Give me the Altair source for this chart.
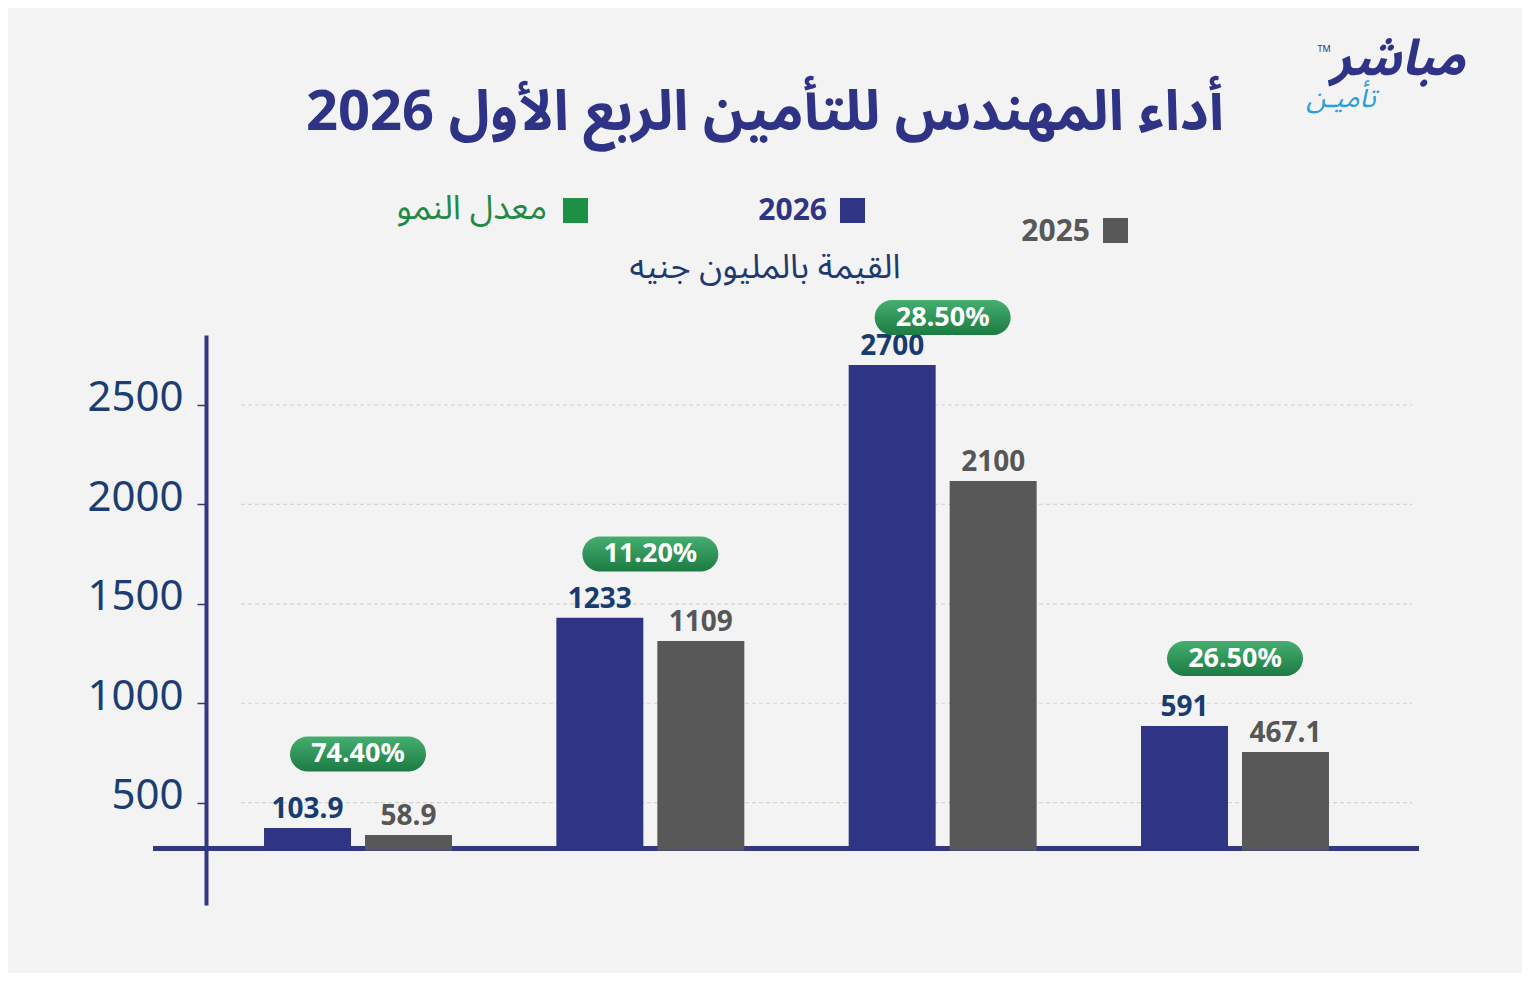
import altair as alt
import pandas as pd

# ---------------- data ----------------
groups = ["G1", "G2", "G3", "G4"]
series = ["2026", "2025"]
# bar tops as drawn against the chart's own axis
bar_2026 = [373, 1430, 2701, 886]
bar_2025 = [338, 1313, 2118, 755]
# printed values
label_2026 = ["103.9", "1233", "2700", "591"]
label_2025 = ["58.9", "1109", "2100", "467.1"]
growth = ["74.40%", "11.20%", "28.50%", "26.50%"]
growth_level = [745, 1751, 2940, 1225]
y_ticks = [500, 1000, 1500, 2000, 2500]
axis_base = 270
bar_floor = 259
y_domain = [-14.5, 2852]

NAVY = "#2f3584"
GRAY = "#585858"
AXIS = "#333780"
LBL_NAVY = "#183b70"
LBL_GRAY = "#565656"
GREEN = "#1f8a45"
BG = "#f3f3f3"
AR_FONT = "Noto Sans Arabic, DejaVu Sans, sans-serif"
NUM_FONT = "Noto Sans"

rows = []
for i, g in enumerate(groups):
    rows.append({"group": g, "series": "2026", "value": bar_2026[i],
                 "label": label_2026[i], "floor": bar_floor})
    rows.append({"group": g, "series": "2025", "value": bar_2025[i],
                 "label": label_2025[i], "floor": bar_floor})
bars_df = pd.DataFrame(rows)
growth_df = pd.DataFrame({"group": groups, "growth": growth, "level": growth_level})
grid_df = pd.DataFrame({"tick": y_ticks})
base_df = pd.DataFrame({"base": [axis_base]})
one = pd.DataFrame({"k": [0]})

x_enc = alt.X("group:N", sort=groups,
              scale=alt.Scale(domain=groups, paddingInner=0.357,
                              paddingOuter=0.2515, align=0.3946),
              axis=None)
xoff_enc = alt.XOffset("series:N", sort=series,
                       scale=alt.Scale(domain=series, paddingInner=0.1386,
                                       paddingOuter=0))
y_scale = alt.Scale(domain=y_domain, nice=False, zero=False)

grid = alt.Chart(grid_df).mark_rule(
    strokeDash=[4, 3], color="#d4d4d4", strokeWidth=1.2
).encode(
    y=alt.Y("tick:Q", scale=y_scale,
            axis=alt.Axis(values=y_ticks, format="d", title=None, grid=False,
                          labelFontSize=42, labelColor="#1b3d72",
                          labelFont=NUM_FONT, labelPadding=14,
                          labelOffset=-7,
                          tickSize=9, tickColor=AXIS, tickWidth=1.5,
                          domainColor=AXIS, domainWidth=4)),
    x=alt.value(35), x2=alt.value(1206),
)

baseline = alt.Chart(base_df).mark_rule(color=AXIS, strokeWidth=5).encode(
    y=alt.Y("base:Q", scale=y_scale),
    x=alt.value(-53), x2=alt.value(1213),
)

bars = alt.Chart(bars_df).mark_bar().encode(
    x=x_enc, xOffset=xoff_enc,
    y=alt.Y("value:Q", scale=y_scale),
    y2="floor:Q",
    color=alt.Color("series:N", scale=alt.Scale(domain=series, range=[NAVY, GRAY]),
                    legend=None),
)

bar_labels = alt.Chart(bars_df).mark_text(
    font=NUM_FONT, fontSize=28, fontWeight="bold", baseline="middle", dy=-18
).encode(
    x=x_enc, xOffset=xoff_enc,
    y=alt.Y("value:Q", scale=y_scale),
    text="label:N",
    color=alt.condition(alt.datum.series == "2026", alt.value(LBL_NAVY), alt.value(LBL_GRAY)),
)

pill_fill = alt.LinearGradient(
    gradient="linear",
    stops=[alt.GradientStop(color="#45ae70", offset=0),
           alt.GradientStop(color="#1c7b43", offset=1)],
    x1=0, x2=0, y1=0, y2=1,
)
pills = alt.Chart(growth_df).mark_rect(
    width=136, height=35, cornerRadius=17.5, color=pill_fill
).encode(
    x=alt.X("group:N", sort=groups),
    y=alt.Y("level:Q", scale=y_scale),
)
pill_text = alt.Chart(growth_df).mark_text(
    font=NUM_FONT, fontSize=27, fontWeight="bold", color="white", baseline="middle"
).encode(
    x=alt.X("group:N", sort=groups),
    y=alt.Y("level:Q", scale=y_scale),
    text="growth:N",
)


def note(text, x, y, size, color, weight="normal", align="center",
         font=AR_FONT, italic=False):
    kw = dict(text=text, fontSize=size, color=color, fontWeight=weight,
              align=align, baseline="middle", font=font)
    if italic:
        kw["fontStyle"] = "italic"
    return alt.Chart(one).mark_text(**kw).encode(x=alt.value(x), y=alt.value(y))


def square(x, y, color):
    return alt.Chart(one).mark_square(size=625, color=color, opacity=1).encode(
        x=alt.value(x), y=alt.value(y))


title = note("أداء المهندس للتأمين  الربع  الأول 2026", 559, -222, 56, "#2e3386", weight="bold")
subtitle = note("القيمة بالمليون جنيه", 559, -67, 34, "#1f3a6e")
leg_g_sq = square(369.5, -124.5, "#1c9146")
leg_g_tx = note("معدل النمو", 341, -126, 34, GREEN, align="right")
leg_n_sq = square(646.5, -124.5, NAVY)
leg_n_tx = note("2026", 621, -124, 30, NAVY, weight="bold", align="right", font=NUM_FONT)
leg_k_sq = square(909.5, -104.5, GRAY)
leg_k_tx = note("2025", 884, -103, 30, GRAY, weight="bold", align="right", font=NUM_FONT)
logo_a = note("مباشر", 1192, -275, 50, "#2e3386", weight="bold", italic=True)
logo_b = note("تأميـن", 1135, -236, 28, "#2b9fd8", italic=True)
logo_tm = note("TM", 1118, -286, 9, "#2e3386", font=NUM_FONT)

chart = alt.layer(
    grid, baseline, bars, bar_labels, pills, pill_text,
    title, subtitle, leg_g_sq, leg_g_tx, leg_n_sq, leg_n_tx, leg_k_sq, leg_k_tx,
    logo_a, logo_b, logo_tm,
).properties(
    width=1212, height=570,
    padding={"left": 198, "top": 327, "right": 104, "bottom": 68},
    autosize="none",
    background=BG,
).configure_view(stroke=None)

chart.save("out.html", embed_options={"renderer": "svg", "actions": False})
